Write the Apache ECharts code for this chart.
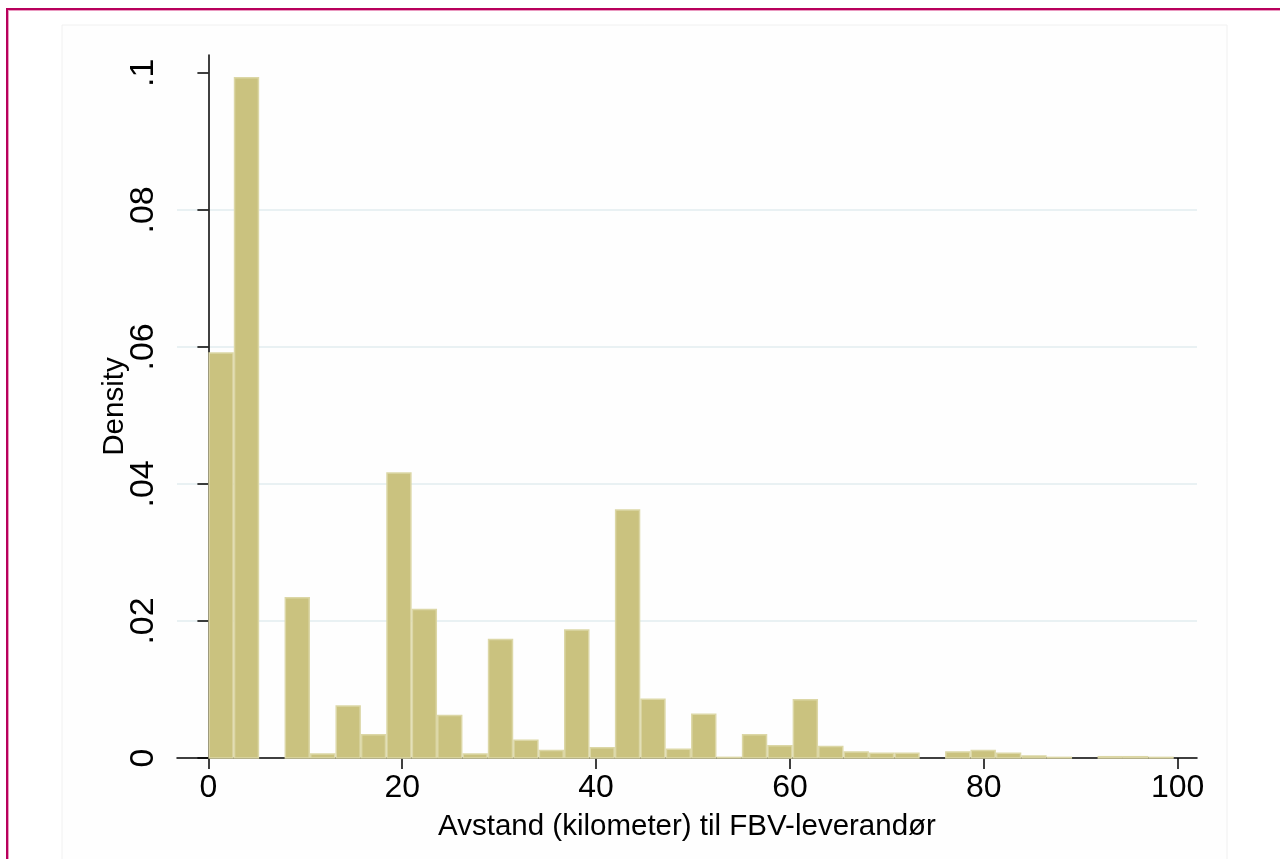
<!DOCTYPE html>
<html>
<head>
<meta charset="utf-8">
<script src="https://cdn.jsdelivr.net/npm/echarts@6/dist/echarts.min.js"></script>
<style>
html,body{margin:0;padding:0;background:#fff;}
#chart{width:1280px;height:859px;}
</style>
</head>
<body>
<div id="chart"></div>
<script>
// Bin edges (km) of the histogram
const binEdges = [0, 2.62, 5.24, 7.86, 10.48, 13.11, 15.73, 18.35, 20.97, 23.59, 26.21, 28.83, 31.45, 34.07, 36.69, 39.32, 41.94, 44.56, 47.18, 49.80, 52.42, 55.04, 57.66, 60.28, 62.90, 65.53, 68.15, 70.77, 73.39, 76.01, 78.63, 81.25, 83.87, 86.49, 89.11, 91.74, 94.36, 96.98, 99.60];
// Density of each bin
const densities = [0.0592, 0.0994, 0, 0.0235, 0.0007, 0.0077, 0.0035, 0.0417, 0.0218, 0.0063, 0.0007, 0.0174, 0.0027, 0.0012, 0.0188, 0.0016, 0.0363, 0.0087, 0.0014, 0.0065, 0.0002, 0.0035, 0.0019, 0.0086, 0.0018, 0.0010, 0.0008, 0.0008, 0, 0.0010, 0.0012, 0.0008, 0.0004, 0.0002, 0, 0.0003, 0.0003, 0.0002];
const xTicks = [0, 20, 40, 60, 80, 100];
const yTicks = [0, 0.02, 0.04, 0.06, 0.08, 0.1];
const yTickLabels = ['0', '.02', '.04', '.06', '.08', '.1'];
const xTitle = 'Avstand (kilometer) til FBV-leverandør';
const yTitle = 'Density';

const data = densities.map((d, i) => [binEdges[i], binEdges[i + 1], d]);

const chart = echarts.init(document.getElementById('chart'), null, {renderer: 'canvas'});
const font = "'Liberation Sans', Arial, sans-serif";

chart.setOption({
  backgroundColor: '#ffffff',
  animation: false,
  graphic: [
    {type: 'rect', silent: true, z: -10, shape: {x: 62, y: 25, width: 1165, height: 900}, style: {fill: '#fefefe', stroke: '#f0f0f0', lineWidth: 1}},
    {type: 'rect', silent: true, z: 10, shape: {x: 6, y: 8, width: 1280, height: 2}, style: {fill: '#b8005c'}},
    {type: 'rect', silent: true, z: 10, shape: {x: 8, y: 10, width: 1280, height: 1}, style: {fill: '#ea9ac0'}},
    {type: 'rect', silent: true, z: 10, shape: {x: 6, y: 8, width: 2, height: 860}, style: {fill: '#b8005c'}},
    {type: 'rect', silent: true, z: 10, shape: {x: 8, y: 10, width: 1, height: 860}, style: {fill: '#ea9ac0'}}
  ],
  grid: {left: 177, right: 83, top: 55, bottom: 101, containLabel: false},
  xAxis: {
    type: 'value',
    min: -3.24,
    max: 102.0,
    name: xTitle,
    nameLocation: 'middle',
    nameGap: 54,
    nameMoveOverlap: false,
    nameTextStyle: {fontFamily: font, fontSize: 29.5, color: '#000'},
    axisLine: {show: true, onZero: false, lineStyle: {color: '#000', width: 1.5}},
    axisTick: {show: true, length: 11, lineStyle: {color: '#000', width: 1.5}, customValues: xTicks},
    axisLabel: {show: true, margin: 14, fontFamily: font, fontSize: 32, color: '#000', customValues: xTicks, formatter: v => String(v)},
    splitLine: {show: false}
  },
  yAxis: {
    type: 'value',
    min: 0,
    max: 0.1026,
    interval: 0.02,
    name: yTitle,
    nameLocation: 'middle',
    nameGap: 47,
    nameMoveOverlap: false,
    nameTextStyle: {fontFamily: font, fontSize: 29.5, color: '#000'},
    axisLine: {show: true, lineStyle: {color: '#000', width: 1.5}},
    axisTick: {show: true, length: 11, lineStyle: {color: '#000', width: 1.5}, customValues: yTicks},
    axisLabel: {show: true, rotate: 90, margin: 16, fontFamily: font, fontSize: 34, color: '#000', customValues: yTicks,
      formatter: v => {
        const i = yTicks.findIndex(t => Math.abs(t - v) < 1e-9);
        return i >= 0 ? yTickLabels[i] : '';
      }},
    splitLine: {show: true, showMinLine: false, showMaxLine: false, lineStyle: {color: '#e9f1f3', width: 2}}
  },
  series: [{
    type: 'custom',
    data: data,
    encode: {x: [0, 1], y: 2},
    renderItem: function (params, api) {
      const x0 = api.value(0), x1 = api.value(1), y = api.value(2);
      if (!(y > 0)) return null;
      const p0 = api.coord([x0, 0]);
      const p1 = api.coord([x1, y]);
      return {
        type: 'rect',
        shape: {x: p0[0] + 0.75, y: p1[1] + 0.75, width: p1[0] - p0[0] - 1.5, height: p0[1] - p1[1] - 0.75},
        style: {fill: '#cac27f', stroke: '#dcd7a6', lineWidth: 1.5}
      };
    }
  }]
});
</script>
</body>
</html>
